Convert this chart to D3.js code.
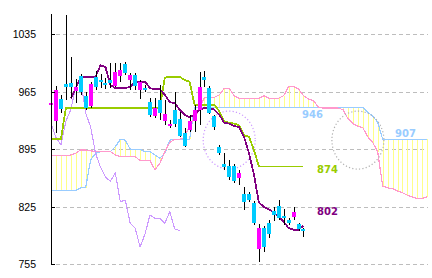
<!DOCTYPE html>
<html>
<head>
<meta charset="utf-8">
<script src="https://cdnjs.cloudflare.com/ajax/libs/d3/7.8.5/d3.min.js"></script>
<style>
body { margin: 0; background: #fff; }
svg { display: block; }
</style>
</head>
<body>
<div id="chart"></div>
<script>
// candle data, one entry per session
var open = [949, 929, 956, 974, 975, 966, 984, 960, 947, 983,
	979, 975, 979, 972, 984, 999, 979, 985, 967, 969,
	952, 935, 955, 929, 923, 943, 932, 915, 918, 929,
	943, 983, 969, 935, 898, 877, 875, 875, 860, 841,
	841, 830, 773, 799, 805, 820, 826, 814, 809, 813,
	804, 798];
var high = [955, 972, 961, 1058, 1007, 980, 986, 965, 977, 990,
	986, 982, 1000, 1000, 1000, 1001, 988, 988, 979, 973,
	957, 957, 973, 955, 930, 965, 940, 921, 937, 949,
	989, 990, 972, 937, 900, 890, 882, 877, 870, 849,
	843, 832, 804, 802, 809, 825, 833, 822, 811, 825,
	805, 799];
var low = [945, 915, 939, 955, 957, 951, 961, 943, 945, 967,
	969, 968, 969, 971, 977, 985, 967, 967, 956, 965,
	934, 933, 930, 924, 921, 922, 910, 898, 916, 916,
	924, 971, 938, 918, 888, 870, 858, 854, 852, 821,
	831, 803, 758, 770, 787, 808, 809, 803, 803, 809,
	796, 788];
var close = [951, 967, 944, 971, 971, 971, 965, 945, 974, 971,
	977, 973, 975, 989, 991, 988, 985, 972, 977, 967,
	937, 945, 939, 938, 926, 926, 911, 899, 929, 943,
	971, 979, 939, 922, 890, 873, 861, 856, 866, 831,
	833, 805, 799, 776, 792, 815, 811, 811, 805, 819,
	798, 796];

// conversion line (starts at session 4)
var tenkan = [null, null, null, null,
	957, 969, 983, 983, 983, 983, 997, 995, 973, 969,
	969, 969, 971, 977, 977, 977, 969, 968, 968, 961,
	952, 951, 943, 937, 934, 937, 943, 945, 945, 943,
	937, 927, 926, 923, 922, 910, 890, 864, 830, 825,
	822, 818, 813, 807, 799, 797, 797, 802];

// base line
var kijun = [907, 907, 907, 945, 945, 945, 945, 945, 945, 945,
	945, 945, 945, 945, 945, 945, 945, 945, 945, 945,
	945, 945, 946, 982, 983, 983, 983, 979, 977, 949,
	949, 949, 949, 949, 941, 929, 927, 926, 924, 912,
	910, 894, 874, 874, 874, 874, 874, 874, 874, 874,
	874, 874];

// lagging span
var chikou = [927, 909, 900, 929, 943, 971, 979, 939, 922, 890,
	873, 861, 856, 866, 831, 833, 805, 799, 776, 792,
	815, 811, 811, 805, 819, 798, 796];

// leading spans (run 25 sessions past the last candle)
var senkouA = [887, 887, 887, 887, 888, 890, 894, 894, 893, 892,
	892, 892, 892, 888, 886, 886, 886, 886, 881, 881,
	881, 870, 878, 892, 903, 907, 907, 909, 924, 933,
	944, 958, 958, 958, 961, 969, 969, 960, 957, 957,
	957, 957, 957, 960, 957, 957, 957, 960, 971, 971,
	968, 960, 956, 954, 946, 945, 945, 945, 945, 943,
	932, 926, 923, 921, 910, 903, 892, 850, 848, 847,
	844, 842, 839, 837, 835, 835, 837];
var senkouB = [845, 845, 845, 845, 845, 845, 848, 848, 882, 890,
	892, 892, 892, 898, 907, 906, 895, 895, 895, 892,
	892, 888, 884, 890, 906, 907, 907, 907, 907, 946,
	946, 946, 946, 946, 946, 946, 946, 946, 946, 946,
	946, 946, 946, 946, 946, 946, 946, 946, 946, 946,
	946, 946, 946, 946, 946, 946, 946, 946, 946, 946,
	946, 946, 946, 946, 940, 935, 928, 907, 907, 907,
	907, 907, 907, 907, 907, 907, 907];

var yTicks = [1035, 965, 895, 825, 755];
var tagValues = [946, 907, 874, 802];
var ringSessions = [36, 62];
var ringLevel = 906;

//Setting up chart
var svgWidth = 432;
var svgHeight = 278;

var svg = d3.select("#chart")
	.append("svg")
	.attr("width", svgWidth)
	.attr("height", svgHeight)
	.style("background", "#fff");

var x = d3.scaleLinear()
	.domain([0, senkouA.length - 1])
	.range([51, 427.2]);
var y = d3.scaleLinear()
	.domain([755, 1035])
	.range([264.3, 34]);

function px(i) { return Math.round(x(i)); }
function py(v) { return Math.round(y(v)); }

// grid lines
svg.append("g")
	.selectAll("line")
	.data(yTicks)
	.enter()
	.append("line")
	.attr("x1", 56)
	.attr("x2", 428)
	.attr("y1", d => py(d) + 0.5)
	.attr("y2", d => py(d) + 0.5)
	.attr("stroke", "#bdbdbd")
	.attr("stroke-dasharray", "4,3");

// cloud hatch
svg.append("g")
	.selectAll("line")
	.data(senkouA)
	.enter()
	.append("line")
	.attr("x1", (d, i) => px(i) + 0.5)
	.attr("x2", (d, i) => px(i) + 0.5)
	.attr("y1", d => py(d))
	.attr("y2", (d, i) => py(senkouB[i]))
	.attr("stroke", "#ffff88")
	.attr("stroke-width", 1)
	.attr("shape-rendering", "crispEdges");

var line = d3.line()
	.defined(d => d != null)
	.x((d, i) => x(i))
	.y(d => y(d));

function addLine(values, color, width) {
	svg.append("path")
		.datum(values)
		.attr("d", line)
		.attr("fill", "none")
		.attr("stroke", color)
		.attr("stroke-width", width)
		.attr("stroke-linejoin", "round")
		.attr("shape-rendering", "crispEdges");
}

addLine(senkouB, "#99ccff", 1.2);
addLine(senkouA, "#ff99cc", 1.2);

// dotted rings
var ringColors = ["#cc99ff", "#b0b0b0"];
svg.append("g")
	.selectAll("ellipse")
	.data(ringSessions)
	.enter()
	.append("ellipse")
	.attr("cx", d => x(d))
	.attr("cy", y(ringLevel))
	.attr("rx", 26)
	.attr("ry", 29)
	.attr("fill", "none")
	.attr("stroke", (d, i) => ringColors[i])
	.attr("stroke-width", 1.2)
	.attr("stroke-dasharray", "1.2,2.2");

addLine(chikou, "#cc99ff", 1.1);
addLine(kijun, "#99cc00", 1.8);
addLine(tenkan, "#800080", 1.8);

// candles
var candles = svg.append("g");
candles.selectAll("line")
	.data(open)
	.enter()
	.append("line")
	.attr("x1", (d, i) => px(i) + 0.5)
	.attr("x2", (d, i) => px(i) + 0.5)
	.attr("y1", (d, i) => py(high[i]))
	.attr("y2", (d, i) => py(low[i]))
	.attr("stroke", "#000")
	.attr("shape-rendering", "crispEdges");

candles.selectAll("rect")
	.data(open)
	.enter()
	.append("rect")
	.attr("x", (d, i) => px(i) - 2)
	.attr("width", 4)
	.attr("y", (d, i) => py(Math.max(d, close[i])))
	.attr("height", (d, i) => Math.max(1, py(Math.min(d, close[i])) - py(Math.max(d, close[i]))))
	.attr("fill", (d, i) => close[i] >= d ? "#ff00ff" : "#00ccff")
	.attr("shape-rendering", "crispEdges");

// y axis
var leftAxis = d3.axisLeft(y)
	.tickValues(yTicks)
	.tickSize(-4)
	.tickSizeOuter(0)
	.tickPadding(15)
	.tickFormat(d3.format("d"));

var yAxis = svg.append("g")
	.attr("transform", "translate(51,0)")
	.call(leftAxis);

yAxis.select(".domain").remove();
yAxis.selectAll(".tick")
	.attr("transform", d => `translate(0,${py(d) + 0.5})`);
yAxis.selectAll(".tick line")
	.attr("stroke", "#000")
	.attr("shape-rendering", "crispEdges");
yAxis.selectAll(".tick text")
	.attr("fill", "#000")
	.attr("dy", "0.36em")
	.style("font-family", "'Liberation Sans', Arial, sans-serif")
	.style("font-size", "10.5px");

yAxis.append("line")
	.attr("x1", 0.5)
	.attr("x2", 0.5)
	.attr("y1", 14)
	.attr("y2", 265)
	.attr("stroke", "#000")
	.attr("shape-rendering", "crispEdges");

// price tags on the right
var tagColors = ["#99ccff", "#99ccff", "#99cc00", "#800080"];
var tagX = [302, 395, 317, 317];
var tagShift = [11, -2, 6.5, -10.5];

svg.append("g")
	.selectAll("text")
	.data(tagValues)
	.enter()
	.append("text")
	.attr("x", (d, i) => tagX[i])
	.attr("y", (d, i) => y(d) + tagShift[i])
	.attr("fill", (d, i) => tagColors[i])
	.style("font-family", "'DejaVu Sans', Verdana, sans-serif")
	.style("font-weight", "bold")
	.style("font-size", "10px")
	.text(d => d);
</script>
</body>
</html>
